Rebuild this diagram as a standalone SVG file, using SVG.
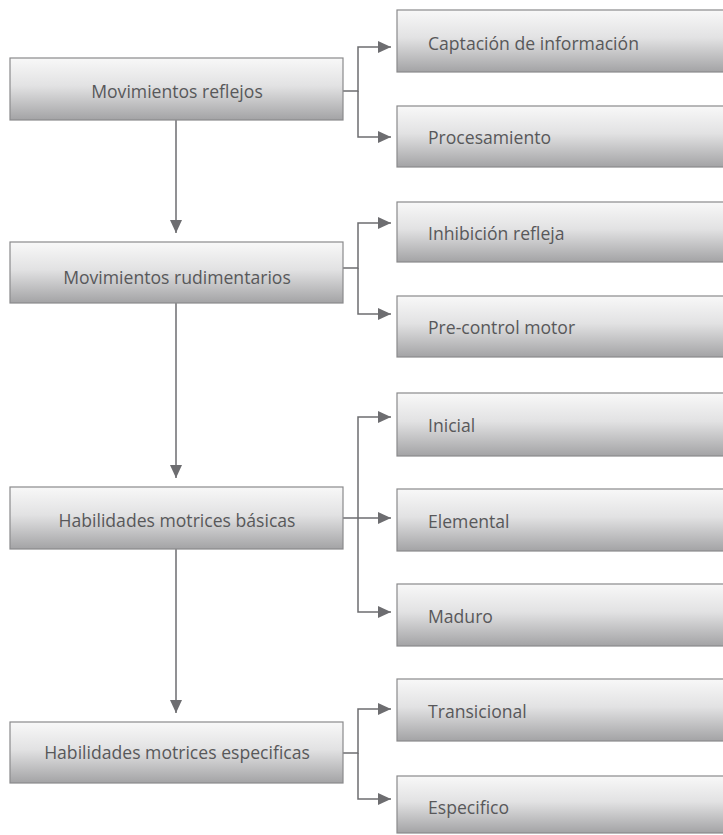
<svg xmlns="http://www.w3.org/2000/svg" width="723" height="835" viewBox="0 0 723 835">
<style>
.box{fill:url(#g);stroke:#8a8a8c;stroke-width:1.2}
.t{font-family:"Open Sans","Noto Sans",sans-serif;font-size:17.6px;fill:#58585a}
.c{text-anchor:middle}
.ln{fill:none;stroke:#6d6d70;stroke-width:1.5}
</style>
<defs>
<linearGradient id="g" x1="0" y1="0" x2="0" y2="1">
<stop offset="0" stop-color="#f8f8f8"/>
<stop offset="0.45" stop-color="#e2e2e3"/>
<stop offset="1" stop-color="#a3a3a5"/>
</linearGradient>
<marker id="ah" viewBox="0 0 13 12" refX="13" refY="6" markerWidth="13" markerHeight="12" markerUnits="userSpaceOnUse" orient="auto">
<path d="M0,0 L13,6 L0,12 z" fill="#6d6d70"/>
</marker>
</defs>
<g id="connectors">
<path class="ln" d="M176,120 V233" marker-end="url(#ah)"/>
<path class="ln" d="M176,303 V478" marker-end="url(#ah)"/>
<path class="ln" d="M176,549 V713" marker-end="url(#ah)"/>
<path class="ln" d="M343,91 H358 V47 H391" marker-end="url(#ah)"/>
<path class="ln" d="M358,91 V137 H391" marker-end="url(#ah)"/>
<path class="ln" d="M343,268 H358 V223 H391" marker-end="url(#ah)"/>
<path class="ln" d="M358,268 V314 H391" marker-end="url(#ah)"/>
<path class="ln" d="M343,518 H391" marker-end="url(#ah)"/>
<path class="ln" d="M358,518 V417 H391" marker-end="url(#ah)"/>
<path class="ln" d="M358,518 V612 H391" marker-end="url(#ah)"/>
<path class="ln" d="M343,753 H358 V709 H391" marker-end="url(#ah)"/>
<path class="ln" d="M358,753 V799 H391" marker-end="url(#ah)"/>
</g>
<g id="n-reflejos"><rect class="box" x="10" y="58" width="333" height="62"/><text class="t c" x="177" y="98">Movimientos reflejos</text></g>
<g id="n-rudimentarios"><rect class="box" x="10" y="242" width="333" height="61"/><text class="t c" x="177" y="284">Movimientos rudimentarios</text></g>
<g id="n-basicas"><rect class="box" x="10" y="487" width="333" height="62"/><text class="t c" x="177" y="527">Habilidades motrices básicas</text></g>
<g id="n-especificas"><rect class="box" x="10" y="722" width="333" height="61"/><text class="t c" x="177" y="759">Habilidades motrices especificas</text></g>
<g id="n-captacion"><rect class="box" x="397" y="10" width="340" height="62"/><text class="t" x="428" y="50">Captación de información</text></g>
<g id="n-procesamiento"><rect class="box" x="397" y="106" width="340" height="61"/><text class="t" x="428" y="144">Procesamiento</text></g>
<g id="n-inhibicion"><rect class="box" x="397" y="202" width="340" height="60"/><text class="t" x="428" y="240">Inhibición refleja</text></g>
<g id="n-precontrol"><rect class="box" x="397" y="296" width="340" height="61"/><text class="t" x="428" y="334">Pre-control motor</text></g>
<g id="n-inicial"><rect class="box" x="397" y="393" width="340" height="63"/><text class="t" x="428" y="432">Inicial</text></g>
<g id="n-elemental"><rect class="box" x="397" y="489" width="340" height="62"/><text class="t" x="428" y="528">Elemental</text></g>
<g id="n-maduro"><rect class="box" x="397" y="584" width="340" height="62"/><text class="t" x="428" y="623">Maduro</text></g>
<g id="n-transicional"><rect class="box" x="397" y="679" width="340" height="62"/><text class="t" x="428" y="718">Transicional</text></g>
<g id="n-especifico"><rect class="box" x="397" y="776" width="340" height="57"/><text class="t" x="428" y="814">Especifico</text></g>
</svg>
